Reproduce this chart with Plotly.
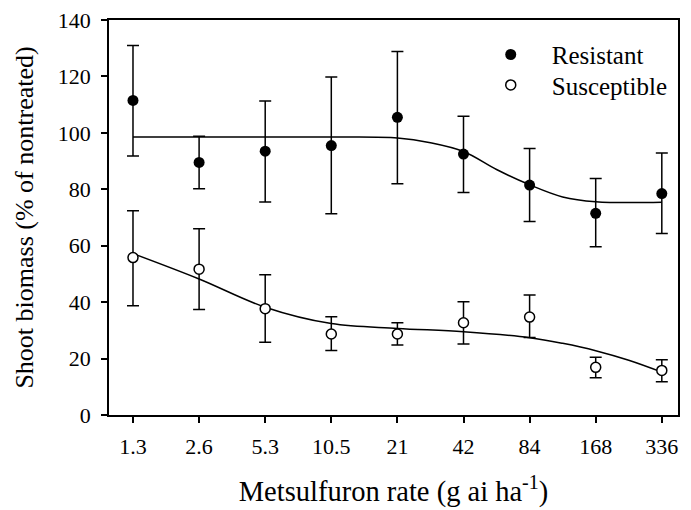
import plotly.graph_objects as go

rates = ["1.3", "2.6", "5.3", "10.5", "21", "42", "84", "168", "336"]
idx = list(range(len(rates)))

res_mean = [111.5, 89.5, 93.5, 95.5, 105.5, 92.5, 81.5, 71.5, 78.5]
res_hi = [131.0, 98.8, 111.3, 119.8, 128.8, 105.9, 94.5, 83.8, 92.9]
res_lo = [91.8, 80.2, 75.5, 71.3, 82.0, 78.9, 68.6, 59.6, 64.3]

sus_mean = [55.8, 51.7, 37.7, 28.7, 28.7, 32.7, 34.7, 16.9, 15.8]
sus_hi = [72.4, 66.0, 49.7, 34.8, 32.7, 40.1, 42.5, 20.5, 19.6]
sus_lo = [38.7, 37.4, 25.8, 22.9, 24.8, 25.2, 27.5, 13.2, 11.8]

# fitted curves (position in rate index, value)
res_fit_x = [0, 1, 2, 3, 4, 4.5, 5, 5.5, 6, 6.5, 7, 8]
res_fit_y = [98.5, 98.5, 98.5, 98.5, 98.2, 96.5, 93.4, 87.0, 81.6, 77.3, 75.6, 75.4]
sus_fit_x = [0, 1, 2, 3, 4, 5, 6, 6.5, 7, 7.5, 8]
sus_fit_y = [57.2, 48.2, 38.2, 32.4, 30.7, 29.5, 27.4, 25.4, 22.8, 19.4, 15.2]

font = "Liberation Serif"

def err(mean, hi, lo):
    return dict(type="data", symmetric=False,
                array=[h - m for h, m in zip(hi, mean)],
                arrayminus=[m - l for m, l in zip(mean, lo)],
                color="black", thickness=1.5, width=6)

fig = go.Figure()
fig.add_trace(go.Scatter(x=res_fit_x, y=res_fit_y, mode="lines",
                         line=dict(color="black", width=1.5, shape="spline"),
                         showlegend=False, hoverinfo="skip"))
fig.add_trace(go.Scatter(x=sus_fit_x, y=sus_fit_y, mode="lines",
                         line=dict(color="black", width=1.5, shape="spline"),
                         showlegend=False, hoverinfo="skip"))
fig.add_trace(go.Scatter(x=idx, y=res_mean, mode="markers", name="Resistant",
                         marker=dict(symbol="circle", size=11, color="black"),
                         error_y=err(res_mean, res_hi, res_lo), legend="legend"))
fig.add_trace(go.Scatter(x=idx, y=sus_mean, mode="markers", name="Susceptible",
                         marker=dict(symbol="circle", size=10, color="white",
                                     line=dict(color="black", width=1.5)),
                         error_y=err(sus_mean, sus_hi, sus_lo), legend="legend2"))

leg_common = dict(xanchor="left", yanchor="middle",
                  font=dict(family=font, size=25), bgcolor="rgba(0,0,0,0)",
                  itemwidth=72)

fig.update_layout(
    width=683, height=502,
    margin=dict(l=101, r=13, t=12, b=95),
    paper_bgcolor="white", plot_bgcolor="white",
    font=dict(family=font, size=22, color="black"),
    legend=dict(x=0.634, y=0.912, **leg_common),
    legend2=dict(x=0.634, y=0.835, **leg_common),
    xaxis=dict(range=[-0.363, 8.245], tickmode="array", tickvals=idx, ticktext=rates,
               showgrid=False, zeroline=False, showline=True, linecolor="black",
               linewidth=1.5, mirror=True, ticks="outside", ticklen=6, tickwidth=1.5,
               tickcolor="black", tickfont=dict(family=font, size=22), automargin=False,
               ticklabelstandoff=5,
               title=dict(text="Metsulfuron rate (g ai ha<sup>-1</sup>)",
                          font=dict(family=font, size=28.5), standoff=23)),
    yaxis=dict(range=[0, 140], tickvals=[0, 20, 40, 60, 80, 100, 120, 140],
               showgrid=False, zeroline=False, showline=True, linecolor="black",
               linewidth=1.5, mirror=True, ticks="outside", ticklen=6, tickwidth=1.5,
               tickcolor="black", tickfont=dict(family=font, size=22), automargin=False,
               ticklabelstandoff=6, ticklabeloverflow="allow",
               title=dict(text="Shoot biomass (% of nontreated)",
                          font=dict(family=font, size=26), standoff=17)),
)

fig.write_html("out.html")
